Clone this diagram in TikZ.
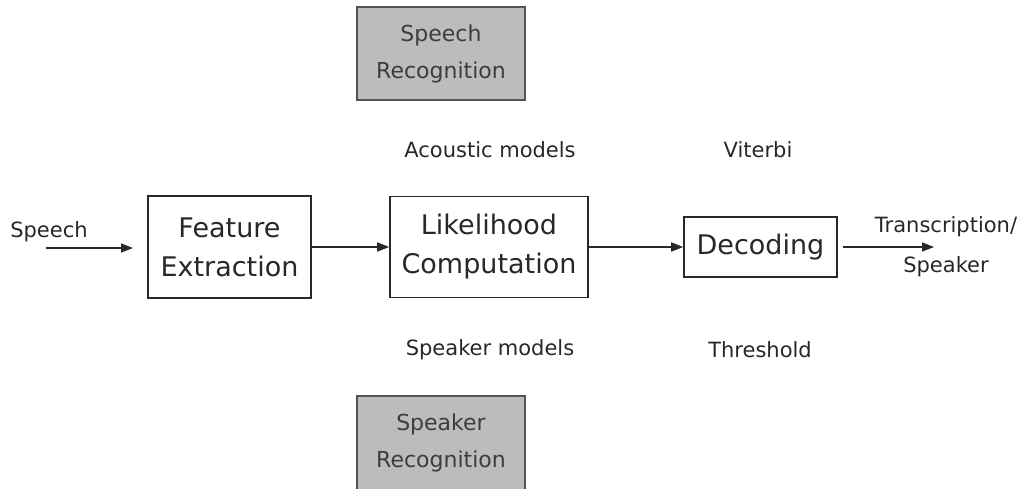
\documentclass[tikz,border=0pt]{standalone}
\usepackage{fontspec}
\setmainfont{DejaVu Sans}
\usetikzlibrary{arrows.meta}
\definecolor{ink}{RGB}{40,40,40}
\definecolor{graybox}{RGB}{188,188,188}
\tikzset{
  x=1pt,y=-1pt,
  blockbox/.style={draw=ink,line width=1.6pt,inner sep=0pt,align=center,text=ink,
    font=\fontsize{27}{39}\selectfont},
  shadebox/.style={draw=ink!80,line width=1.4pt,fill=graybox,inner sep=0pt,align=center,
    text=ink!90,font=\fontsize{22}{37}\selectfont},
  lbl/.style={inner sep=0pt,text=ink,font=\fontsize{21}{30}\selectfont,align=center},
  flow/.style={draw=ink,line width=1.4pt,-{Triangle[length=12pt,width=9pt]}}
}
\begin{document}
\begin{tikzpicture}
\useasboundingbox (0,0) rectangle (1027,488);
\fill[white] (0,0) rectangle (1027,488);
% gray boxes
\node[shadebox,minimum width=168pt,minimum height=93pt] (sr) at (441,53.5) {Speech\\Recognition};
\node[shadebox,minimum width=168pt,minimum height=94pt] (spk) at (441,443) {Speaker\\Recognition};
% main blocks
\node[blockbox,minimum width=163pt,minimum height=102pt] (fe) at (229.5,247) {Feature\\Extraction};
\node[blockbox,minimum width=198pt,minimum height=101pt] (lc) at (489,247) {Likelihood\\Computation};
\node[blockbox,minimum width=153pt,minimum height=60pt] (dec) at (760.5,247) {Decoding};
% labels
\node[lbl] (speech) at (49,232) {Speech};
\node[lbl] (am) at (490,150) {Acoustic models};
\node[lbl] (vit) at (758,150) {Viterbi};
\node[lbl] (sm) at (490,350) {Speaker models};
\node[lbl] (thr) at (760,350) {Threshold};
\node[lbl,font=\fontsize{21}{40}\selectfont] (out) at (946,247) {Transcription/\\Speaker};
% connectors
\coordinate (in0) at (46,248);
\coordinate (in1) at (133,248);
\coordinate (o0) at (843,247);
\coordinate (o1) at (934,247);
\draw[flow] (in0) -- (in1);
\draw[flow] (fe.east) -- (lc.west);
\draw[flow] (lc.east) -- (dec.west);
\draw[flow] (o0) -- (o1);
\end{tikzpicture}
\end{document}
